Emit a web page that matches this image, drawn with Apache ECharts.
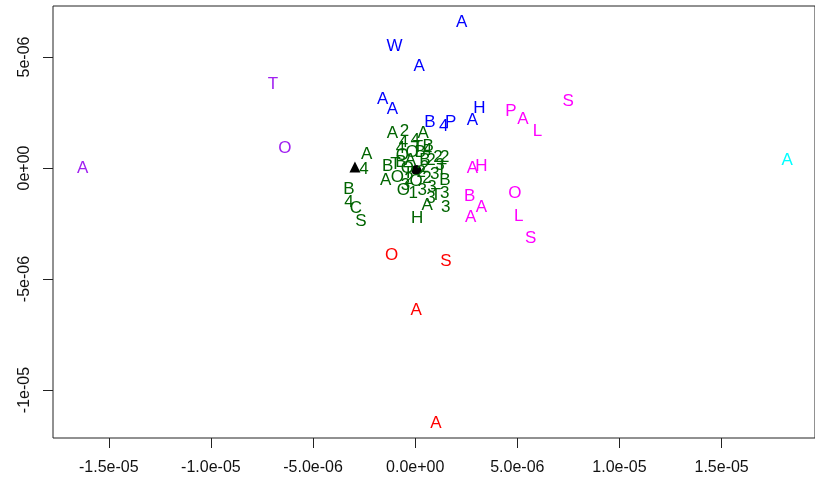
<!DOCTYPE html>
<html><head><meta charset="utf-8">
<script src="https://cdn.jsdelivr.net/npm/echarts@6/dist/echarts.min.js"></script>
<style>html,body{margin:0;padding:0;background:#fff}#c{width:815px;height:482px}</style>
</head><body><div id="c"></div><script>
const xTicks = [-1.5e-5, -1.0e-5, -5e-6, 0, 5e-6, 1.0e-5, 1.5e-5];
const xTickLabels = ['-1.5e-05','-1.0e-05','-5.0e-06','0.0e+00','5.0e-06','1.0e-05','1.5e-05'];
const yTicks = [-1e-5, -5e-6, 0, 5e-6];
const yTickLabels = ['-1e-05','-5e-06','0e+00','5e-06'];

const purpleX = [-16.28e-6, -6.96e-6, -6.38e-6];
const purpleY = [0, 3.78e-6, 0.90e-6];
const purpleLab = ['A','T','O'];

const cyanX = [18.21e-6];
const cyanY = [0.36e-6];
const cyanLab = ['A'];

const blueX = [2.27e-6, -1.01e-6, 0.19e-6, -1.59e-6, -1.11e-6, 0.72e-6, 1.40e-6, 1.74e-6, 2.80e-6, 3.14e-6];
const blueY = [6.58e-6, 5.50e-6, 4.59e-6, 3.11e-6, 2.66e-6, 2.07e-6, 1.89e-6, 2.07e-6, 2.16e-6, 2.70e-6];
const blueLab = ['A','W','A','A','A','B','4','P','A','H'];

const magentaX = [4.69e-6, 5.27e-6, 5.99e-6, 7.49e-6, 2.80e-6, 3.24e-6, 2.66e-6, 3.24e-6, 4.88e-6, 2.71e-6, 5.07e-6, 5.65e-6];
const magentaY = [2.57e-6, 2.21e-6, 1.67e-6, 3.02e-6, 0, 0.09e-6, -1.26e-6, -1.76e-6, -1.13e-6, -2.21e-6, -2.16e-6, -3.15e-6];
const magentaLab = ['P','A','L','S','A','H','B','A','O','A','L','S'];

const redX = [-1.16e-6, 1.50e-6, 0.05e-6, 1.01e-6];
const redY = [-3.92e-6, -4.19e-6, -6.40e-6, -11.49e-6];
const redLab = ['O','S','A','A'];

const greenX = [-2.37e-6, -2.51e-6, -3.24e-6, -3.24e-6, -2.90e-6, -2.66e-6, -1.35e-6, -0.97e-6, -1.45e-6, -0.87e-6,
  -1.11e-6, -0.53e-6, 0.39e-6, 0.10e-6, 0.58e-6, 1.01e-6, 1.45e-6, 1.50e-6, 1.45e-6, 1.11e-6,
  1.45e-6, -0.10e-6, -0.48e-6, -0.58e-6, -0.72e-6, 0.14e-6, 0.63e-6, -0.63e-6, 1.21e-6, 0.48e-6,
  -0.39e-6, 0.77e-6, 0.34e-6, 0.82e-6, 0.58e-6, -0.24e-6, 0.24e-6, 0, -0.58e-6, 1.30e-6,
  0.29e-6, 0.77e-6, -0.34e-6, -0.15e-6, 0.45e-6, -0.70e-6, 0.95e-6, 0.05e-6, -0.30e-6, 0.60e-6];
const greenY = [0.63e-6, -0.05e-6, -0.95e-6, -1.53e-6, -1.80e-6, -2.39e-6, 0.09e-6, 0.18e-6, -0.54e-6, -0.41e-6,
  1.58e-6, 1.67e-6, 1.58e-6, -2.25e-6, -1.67e-6, -1.22e-6, -1.13e-6, -1.76e-6, -0.54e-6, 0.50e-6,
  0.50e-6, -1.13e-6, -0.77e-6, 1.17e-6, 0.90e-6, 0.95e-6, 0.99e-6, 0.59e-6, 0.14e-6, 0.36e-6,
  0, 0.36e-6, -0.99e-6, -0.86e-6, -0.45e-6, 0.36e-6, 0.72e-6, 1.26e-6, -0.99e-6, -0.09e-6,
  -0.18e-6, -1.35e-6, -0.23e-6, 0.70e-6, 0.05e-6, 0.25e-6, -0.30e-6, -0.60e-6, -0.50e-6, 0.80e-6];
const greenLab = ['A','4','B','4','C','S','B','T','A','O',
  'A','2','A','H','A','T','3','3','B','2',
  '2','1','3','4','4','T','B','O','3','B',
  'O','2','3','3','2','A','B','4','O','T',
  '2','3','T','O','2','B','3','O','2','4'];

const triX = [-2.95e-6], triY = [0.05e-6];
const dotX = [0.05e-6], dotY = [-0.09e-6];

function fmt(ticks, labels) {
  return v => { const i = ticks.findIndex(t => Math.abs(t - v) < 1e-9); return i >= 0 ? labels[i] : ''; };
}
function textSeries(xs, ys, labs, color) {
  return {
    type: 'scatter', symbolSize: 1, itemStyle: { color: 'rgba(0,0,0,0)', opacity: 1 },
    data: xs.map((x, i) => [x, ys[i], labs[i]]),
    label: { show: true, position: 'inside', formatter: p => p.data[2], color: color, opacity: 1,
      fontFamily: 'Liberation Sans', fontSize: 17 },
    emphasis: { disabled: true }, silent: true
  };
}
const chart = echarts.init(document.getElementById('c'));
chart.setOption({
  animation: false,
  grid: { left: 53, top: 6, right: -10, bottom: 44, show: true, borderColor: '#222', borderWidth: 1 },
  xAxis: {
    type: 'value', min: -17.73e-6, max: 19.57e-6, splitLine: { show: false },
    axisLine: { show: false, onZero: false },
    axisTick: { show: true, length: 10, customValues: xTicks, lineStyle: { color: '#222' } },
    axisLabel: { customValues: xTicks, formatter: fmt(xTicks, xTickLabels), margin: 22,
      fontFamily: 'Liberation Sans', fontSize: 16, color: '#111' }
  },
  yAxis: {
    type: 'value', min: -12.16e-6, max: 7.297e-6, splitLine: { show: false },
    axisLine: { show: false, onZero: false },
    axisTick: { show: true, length: 10, customValues: yTicks, lineStyle: { color: '#222' } },
    axisLabel: { customValues: yTicks, formatter: fmt(yTicks, yTickLabels), rotate: 90, margin: 20,
      fontFamily: 'Liberation Sans', fontSize: 16, color: '#111' }
  },
  series: [
    textSeries(purpleX, purpleY, purpleLab, '#A020F0'),
    textSeries(cyanX, cyanY, cyanLab, '#00FFFF'),
    textSeries(blueX, blueY, blueLab, '#0000FF'),
    textSeries(magentaX, magentaY, magentaLab, '#FF00FF'),
    textSeries(redX, redY, redLab, '#FF0000'),
    textSeries(greenX, greenY, greenLab, '#006400'),
    { type: 'scatter', symbol: 'triangle', symbolSize: 11, itemStyle: { color: '#000', opacity: 1 },
      data: triX.map((x, i) => [x, triY[i]]), silent: true },
    { type: 'scatter', symbol: 'circle', symbolSize: 10, itemStyle: { color: '#000', opacity: 1 },
      data: dotX.map((x, i) => [x, dotY[i]]), silent: true }
  ]
});
</script></body></html>
